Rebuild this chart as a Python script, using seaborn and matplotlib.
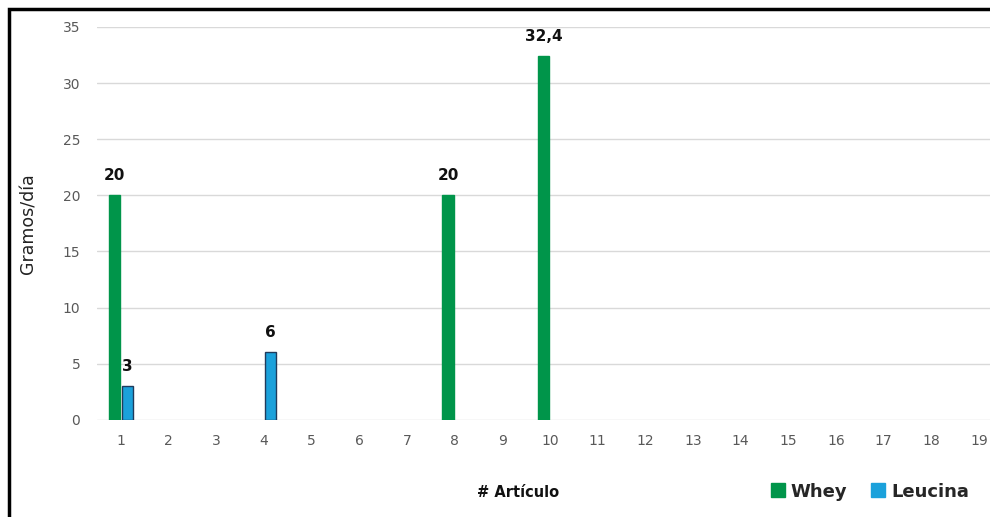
import numpy as np
import pandas as pd
import matplotlib
matplotlib.use("Agg")
import matplotlib.pyplot as plt
from matplotlib.patches import Rectangle
from matplotlib.lines import Line2D
import seaborn as sns

# Article numbers on the x axis
articulos = [str(i) for i in range(1, 20)]
# Daily grams per article (NaN where the article reports nothing)
whey = [20, np.nan, np.nan, np.nan, np.nan, np.nan, np.nan, 20, np.nan, 32.4,
        np.nan, np.nan, np.nan, np.nan, np.nan, np.nan, np.nan, np.nan, np.nan]
leucina = [3, np.nan, np.nan, 6, np.nan, np.nan, np.nan, np.nan, np.nan, np.nan,
           np.nan, np.nan, np.nan, np.nan, np.nan, np.nan, np.nan, np.nan, np.nan]
series = ["Whey", "Leucina"]
colores = {"Whey": "#00954A", "Leucina": "#1BA1DB"}
bordes = {"Whey": "#00954A", "Leucina": "#1F3B5C"}

df = pd.DataFrame({
    "Artículo": articulos * 2,
    "Serie": ["Whey"] * len(articulos) + ["Leucina"] * len(articulos),
    "Gramos": whey + leucina,
}).dropna()

sns.set_theme(style="white")
plt.rcParams["font.family"] = ["DejaVu Sans"]

fig = plt.figure(figsize=(9.9, 5.17), dpi=100)
ax = fig.add_axes([0.098, 0.188, 0.915, 0.760])

sns.barplot(data=df, x="Artículo", y="Gramos", hue="Serie", order=articulos,
            hue_order=series, palette=colores, width=0.55, gap=0.12,
            dodge=True, ax=ax, legend=False, saturation=1)

for cont, s in zip(ax.containers, series):
    for p in cont:
        p.set_edgecolor(bordes[s])
        p.set_linewidth(1.0)
    ax.bar_label(cont, labels=[f"{v:g}".replace(".", ",") for v in cont.datavalues],
                 padding=9, fontsize=11, fontweight="bold", color="#111111")

ax.set_xlim(-0.5, 18.5)
ax.set_ylim(0, 35)
ax.set_yticks(range(0, 36, 5))
ax.yaxis.grid(True, color="#D9D9D9", linewidth=1)
ax.set_axisbelow(True)
for sp in ax.spines.values():
    sp.set_visible(False)
ax.tick_params(axis="both", length=0, labelsize=10, labelcolor="#595959")
ax.tick_params(axis="y", pad=12)
ax.tick_params(axis="x", pad=10)
ax.set_xlabel("")
ax.set_ylabel("Gramos/día", fontsize=12.5, color="#222222", labelpad=18)

fig.text(0.523, 0.033, "# Artículo", ha="center", va="bottom",
         fontsize=10.5, fontweight="bold", color="#111111")

handles = [Line2D([], [], marker="s", linestyle="none", markersize=10,
                  markerfacecolor=colores[s], markeredgecolor=colores[s]) for s in series]
fig.legend(handles, series, loc="lower right", bbox_to_anchor=(0.995, 0.0),
           ncol=2, frameon=False, prop={"weight": "bold", "size": 13},
           handletextpad=0.2, columnspacing=1.2, handlelength=1.0)

# Frame drawn around the chart (open at the right and bottom edges)
fig.patches.append(Rectangle((0.009, -0.1), 1.2, 1.083, transform=fig.transFigure,
                             fill=False, edgecolor="black", linewidth=2.5, zorder=10))

fig.savefig("out.png", dpi=100)
